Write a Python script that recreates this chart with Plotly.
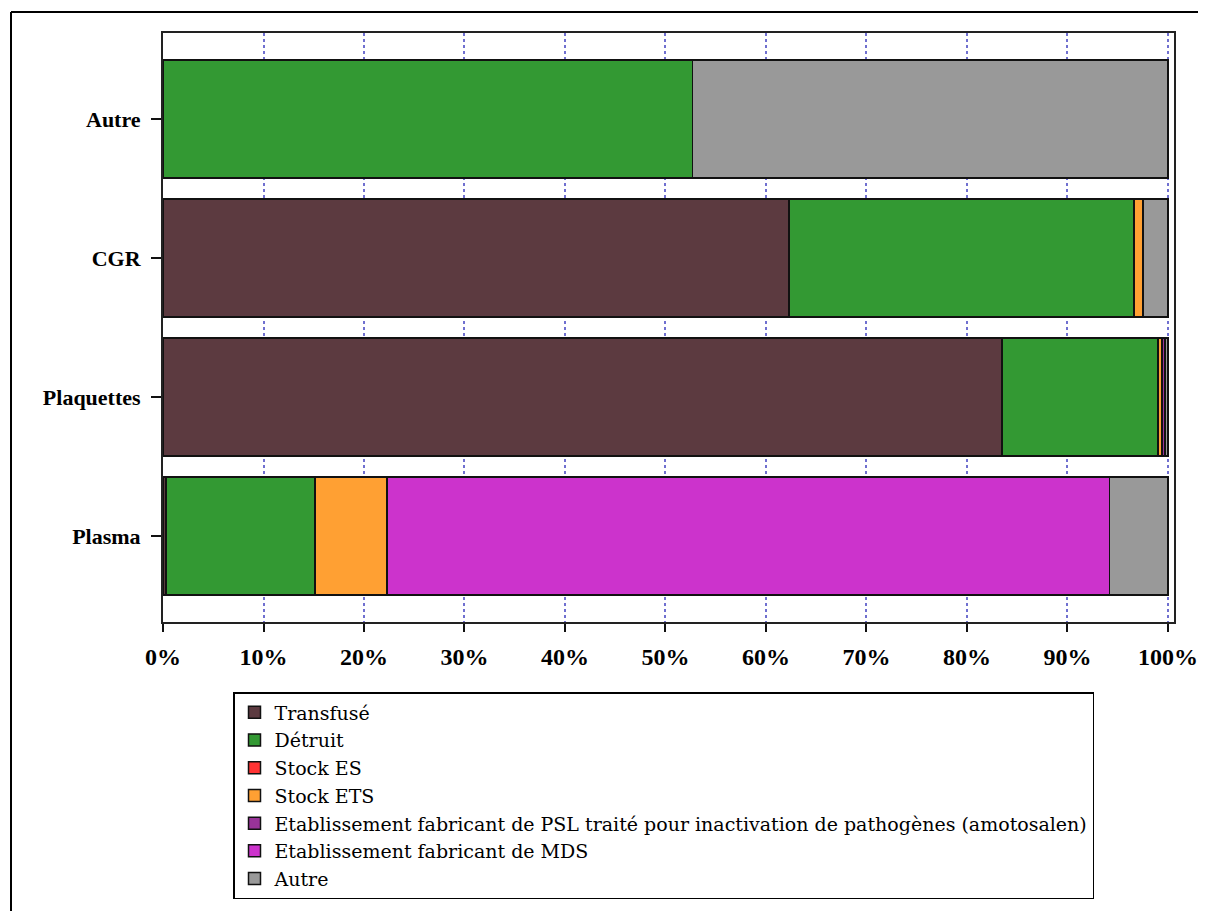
import plotly.graph_objects as go

categories = ["Plasma", "Plaquettes", "CGR", "Autre"]
series_names = ["Transfusé", "Détruit", "Stock ES", "Stock ETS",
                "Etablissement fabricant de PSL traité pour inactivation de pathogènes (amotosalen)",
                "Etablissement fabricant de MDS", "Autre"]
transfuse = [0.3, 83.5, 62.3, 0]
detruit = [14.8, 15.5, 34.3, 52.7]
stock_es = [0, 0, 0, 0]
stock_ets = [7.2, 0.4, 0.9, 0]
psl = [0, 0.3, 0, 0]
mds = [71.9, 0, 0, 0]
autre = [5.8, 0.3, 2.5, 47.3]
colors = ["#5C3A40", "#339933", "#FF3333", "#FFA033", "#993399", "#CC33CC", "#999999"]
tick_vals = [0, 10, 20, 30, 40, 50, 60, 70, 80, 90, 100]
tick_text = ["0%", "10%", "20%", "30%", "40%", "50%", "60%", "70%", "80%", "90%", "100%"]

values = [transfuse, detruit, stock_es, stock_ets, psl, mds, autre]

OFF = 8  # page body margin
W, H = 1206 - OFF, 911 - OFF
L, T = 163 - OFF, 33 - OFF
R = W - (1174 - OFF)
B = H - (622 - OFF)
pw, ph = W - L - R, H - T - B

fig = go.Figure()
for name, vals, col in zip(series_names, values, colors):
    fig.add_trace(go.Bar(
        x=[v if v > 0 else None for v in vals], y=categories, name=name, orientation="h",
        marker=dict(color=col, line=dict(color="#111111", width=1.5)),
    ))

serif = "Liberation Serif, Times New Roman, serif"


def px(x):
    return (x - OFF - L) / pw


def py(y):
    return (H - B - (y - OFF)) / ph


fig.update_layout(
    width=W, height=H,
    barmode="stack", bargap=0.15,
    plot_bgcolor="white", paper_bgcolor="white",
    margin=dict(l=L, r=R, t=T, b=B, autoexpand=False),
    font=dict(family=serif, color="black"),
    xaxis=dict(range=[0, 100.6], tickvals=tick_vals, ticktext=tick_text,
               showgrid=True, gridcolor="#7070D0", griddash="dot", gridwidth=1.5,
               ticks="outside", ticklen=8, tickwidth=2, tickcolor="#111",
               ticklabelstandoff=4,
               showline=True, linecolor="#222", linewidth=2, mirror=True,
               tickfont=dict(family=serif, size=24, color="black", weight="bold"),
               zeroline=False, fixedrange=True),
    yaxis=dict(categoryorder="array", categoryarray=categories, range=[-0.62, 3.62],
               ticks="outside", ticklen=10, tickwidth=1.5, tickcolor="#111",
               ticklabelstandoff=6,
               showline=True, linecolor="#222", linewidth=2, mirror=True,
               showgrid=False,
               tickfont=dict(family=serif, size=22, color="black", weight="bold")),
    legend=dict(x=px(233), y=py(692), xanchor="left", yanchor="top",
                bordercolor="black", borderwidth=1.5, bgcolor="white",
                font=dict(family="DejaVu Serif, serif", size=19, color="black"),
                traceorder="normal"),
    showlegend=True,
    shapes=[
        dict(type="line", xref="paper", yref="paper", x0=px(11), x1=px(1215),
             y0=py(12), y1=py(12), line=dict(color="black", width=2)),
        dict(type="line", xref="paper", yref="paper", x0=px(11), x1=px(11),
             y0=py(12), y1=py(915), line=dict(color="black", width=2)),
    ],
)

fig.write_html("out.html")
